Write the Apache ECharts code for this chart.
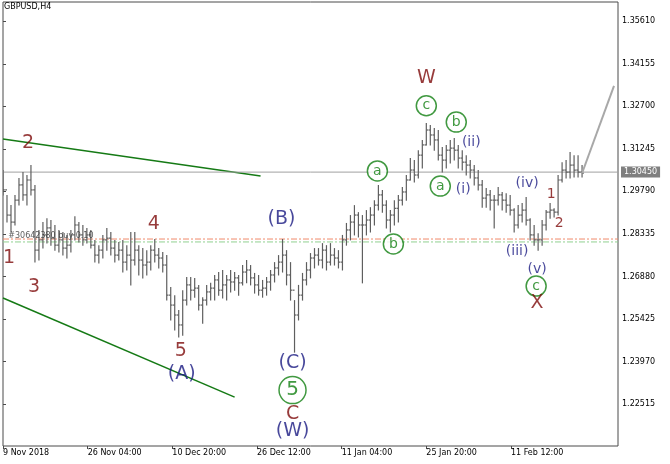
<!DOCTYPE html>
<html><head><meta charset="utf-8">
<script src="https://cdn.jsdelivr.net/npm/echarts@6/dist/echarts.min.js"></script>
<style>html,body{margin:0;padding:0;background:#fff}#c{width:670px;height:464px}</style>
</head><body><div id="c"></div>
<script>
const title = 'GBPUSD,H4';
const tickLabels = ['9 Nov 2018','26 Nov 04:00','10 Dec 20:00','26 Dec 12:00','11 Jan 04:00','25 Jan 20:00','11 Feb 12:00'];
const tickBars = [0, 21.2, 42.4, 63.6, 84.8, 106, 127.2];
const priceTicks = [1.22515,1.23970,1.25425,1.26880,1.28335,1.29790,1.31245,1.32700,1.34155,1.35610];
const lastPrice = 1.30450;
const orderLevels = [1.2816, 1.2806];

const highs = [1.3052,1.2967,1.2932,1.2967,1.3025,1.3045,1.3035,1.3069,1.3001,1.2847,
1.2874,1.2887,1.2881,1.2864,1.2847,1.2840,1.2830,1.2847,1.2894,1.2874,
1.2864,1.2854,1.2847,1.2813,1.2795,1.2830,1.2854,1.2840,1.2813,1.2806,
1.2813,1.2795,1.2840,1.2840,1.2795,1.2785,1.2778,1.2795,1.2816,1.2785,
1.2772,1.2761,1.2652,1.2624,1.2573,1.2641,1.2686,1.2686,1.2683,1.2659,
1.2617,1.2659,1.2666,1.2693,1.2703,1.2710,1.2693,1.2710,1.2703,1.2693,
1.2727,1.2744,1.2727,1.2700,1.2693,1.2676,1.2686,1.2710,1.2737,1.2761,
1.2816,1.2778,1.2737,1.2607,1.2659,1.2700,1.2737,1.2768,1.2785,1.2785,
1.2802,1.2795,1.2802,1.2785,1.2778,1.2830,1.2871,1.2898,1.2932,1.2908,
1.2898,1.2915,1.2925,1.2949,1.3001,1.2984,1.2949,1.2915,1.2949,1.2967,
1.2994,1.3035,1.3093,1.3086,1.3120,1.3155,1.3213,1.3206,1.3196,1.3189,
1.3131,1.3138,1.3155,1.3162,1.3138,1.3120,1.3103,1.3086,1.3069,1.3052,
1.3018,1.2991,1.2984,1.2967,1.2994,1.2977,1.2973,1.2967,1.2921,1.2932,
1.2939,1.2960,1.2887,1.2864,1.2836,1.2881,1.2915,1.2939,1.2921,1.3035,
1.3079,1.3086,1.3114,1.3103,1.3103,1.3069];
const lows = [1.2967,1.2874,1.2840,1.2864,1.2932,1.2949,1.2932,1.2967,1.2737,1.2744,
1.2785,1.2802,1.2795,1.2778,1.2772,1.2761,1.2751,1.2772,1.2813,1.2806,
1.2795,1.2802,1.2785,1.2737,1.2734,1.2751,1.2778,1.2761,1.2737,1.2744,
1.2703,1.2710,1.2659,1.2727,1.2693,1.2683,1.2693,1.2710,1.2737,1.2717,
1.2703,1.2607,1.2539,1.2505,1.2481,1.2487,1.2590,1.2607,1.2617,1.2573,
1.2528,1.2590,1.2607,1.2607,1.2624,1.2614,1.2607,1.2635,1.2641,1.2624,
1.2659,1.2666,1.2659,1.2631,1.2624,1.2617,1.2624,1.2641,1.2669,1.2693,
1.2703,1.2659,1.2607,1.2429,1.2539,1.2607,1.2659,1.2683,1.2717,1.2727,
1.2717,1.2710,1.2727,1.2727,1.2717,1.2710,1.2795,1.2813,1.2830,1.2823,
1.2666,1.2830,1.2840,1.2864,1.2915,1.2908,1.2854,1.2840,1.2864,1.2874,
1.2932,1.2949,1.3018,1.3011,1.3025,1.3059,1.3138,1.3138,1.3120,1.3086,
1.3045,1.3059,1.3076,1.3086,1.3059,1.3052,1.3035,1.3025,1.3001,1.2984,
1.2925,1.2925,1.2915,1.2854,1.2932,1.2915,1.2908,1.2898,1.2840,1.2854,
1.2874,1.2864,1.2813,1.2795,1.2778,1.2795,1.2847,1.2887,1.2891,1.2898,
1.3011,1.3025,1.3025,1.3028,1.3028,1.3028];
const closes = [1.2984,1.2898,1.2874,1.2949,1.3001,1.2967,1.3018,1.2984,1.2778,1.2813,
1.2830,1.2854,1.2819,1.2795,1.2813,1.2785,1.2795,1.2830,1.2864,1.2830,
1.2813,1.2830,1.2795,1.2761,1.2778,1.2813,1.2819,1.2785,1.2761,1.2778,
1.2737,1.2761,1.2744,1.2778,1.2744,1.2727,1.2737,1.2778,1.2761,1.2751,
1.2727,1.2624,1.2590,1.2556,1.2522,1.2607,1.2659,1.2641,1.2648,1.2590,
1.2607,1.2635,1.2648,1.2676,1.2641,1.2659,1.2676,1.2669,1.2683,1.2666,
1.2703,1.2710,1.2683,1.2659,1.2641,1.2648,1.2669,1.2693,1.2717,1.2737,
1.2761,1.2693,1.2641,1.2556,1.2624,1.2676,1.2710,1.2751,1.2761,1.2744,
1.2778,1.2737,1.2761,1.2751,1.2737,1.2813,1.2847,1.2874,1.2898,1.2864,
1.2864,1.2881,1.2898,1.2932,1.2967,1.2932,1.2881,1.2898,1.2921,1.2949,
1.2977,1.3018,1.3052,1.3035,1.3103,1.3138,1.3189,1.3172,1.3155,1.3103,
1.3086,1.3120,1.3127,1.3120,1.3093,1.3079,1.3069,1.3052,1.3025,1.3001,
1.2956,1.2967,1.2949,1.2949,1.2967,1.2949,1.2932,1.2915,1.2864,1.2898,
1.2915,1.2881,1.2830,1.2813,1.2813,1.2864,1.2908,1.2915,1.2908,1.3018,
1.3052,1.3045,1.3069,1.3052,1.3045,1.3041];

// trend / projection lines: [barIndex, price]
const upperChannel = [[0, 1.3158], [64.5, 1.3032]];
const lowerChannel = [[0, 1.2614], [58, 1.2275]];
const projection = [[145, 1.3041], [153, 1.3340]];
const chartSpan = [0, 154];

// wave labels: [barIndex, price, text]
const redLabels = [[1.5,1.2751,'1'],[6.25,1.3144,'2'],[7.75,1.2652,'3'],[37.75,1.2867,'4'],[44.5,1.2433,'5'],
  [106,1.3367,'W'],[72.5,1.2217,'C'],[133.75,1.2597,'X']];
const redSmall = [[137.25,1.2970,'1'],[139.25,1.2871,'2']];
const navyBig = [[44.75,1.2354,'(A)'],[69.75,1.2884,'(B)'],[72.5,1.2392,'(C)'],[72.5,1.2159,'(W)']];
const navySmall = [[115.25,1.2987,'(i)'],[117.25,1.3148,'(ii)'],[128.75,1.2775,'(iii)'],[131.25,1.3008,'(iv)'],[133.75,1.2713,'(v)']];
const circleLabels = [[93.75,1.3049,'a'],[97.75,1.2799,'b'],[106,1.3272,'c'],[113.5,1.3216,'b'],[109.5,1.2997,'a'],[133.5,1.2655,'c']];
const bigCircle = [[72.5,1.2299,'5']];
const orderTag = [[1.2,1.2826,'#30642380 buy 0.10']];

const FONT = 'DejaVu Sans';
const RED = '#7d0a0a', NAVY = '#1a1a82', GREEN = '#118011';
const bars = closes.map((c, i) => [i, highs[i], lows[i], c, i > 0 ? closes[i-1] : c]);

function textSeries(data, color, size) {
  return {
    type: 'scatter', symbolSize: 1, itemStyle: {color: 'rgba(0,0,0,0)'}, silent: true, z: 5,
    data: data.map(d => ({value: [d[0], d[1]], name: d[2]})),
    label: {show: true, position: 'inside', formatter: p => p.name, color: color, fontSize: size, fontFamily: FONT}
  };
}
function circleSeries(data, size, font) {
  return {
    type: 'scatter', symbol: 'circle', symbolSize: size, silent: true, z: 5,
    itemStyle: {color: '#fff', borderColor: GREEN, borderWidth: 1.5},
    data: data.map(d => ({value: [d[0], d[1]], name: d[2]})),
    label: {show: true, position: 'inside', formatter: p => p.name, color: GREEN, fontSize: font, fontFamily: FONT}
  };
}
function hLine(price, color, type, extra) {
  return Object.assign({
    type: 'line', symbol: 'none', silent: true, z: 2,
    data: chartSpan.map(x => [x, price]),
    lineStyle: {color: color, width: 1, type: type}
  }, extra || {});
}

const chart = echarts.init(document.getElementById('c'), null, {renderer: 'canvas'});
chart.setOption({
  animation: false,
  backgroundColor: '#fff',
  graphic: [{type: 'text', left: 4, top: 3, style: {text: title, fontSize: 8, fontFamily: FONT, fill: '#000'}}],
  grid: {left: 2, right: 52, top: 2, bottom: 18, show: true, borderColor: '#4a4a4a', borderWidth: 1, containLabel: false},
  xAxis: {
    type: 'value', min: 0, max: 154,
    axisLine: {show: false}, splitLine: {show: false},
    axisTick: {show: true, customValues: tickBars, length: 3, lineStyle: {color: '#4a4a4a'}},
    axisLabel: {customValues: tickBars, align: 'left', margin: 3, fontSize: 8, fontFamily: FONT, color: '#000',
      formatter: v => { const k = tickBars.findIndex(t => Math.abs(t - v) < 0.01); return k >= 0 ? tickLabels[k] : ''; }}
  },
  yAxis: {
    type: 'value', position: 'right', min: 1.21078, max: 1.36270,
    axisLine: {show: false}, splitLine: {show: false},
    axisTick: {show: true, customValues: priceTicks, length: 3, lineStyle: {color: '#4a4a4a'}},
    axisLabel: {customValues: priceTicks, margin: 4, fontSize: 8, fontFamily: FONT, color: '#000', formatter: v => v.toFixed(5)}
  },
  series: [
    {type: 'line', data: upperChannel, symbol: 'none', silent: true, lineStyle: {color: '#157a15', width: 1.5}, z: 2},
    {type: 'line', data: lowerChannel, symbol: 'none', silent: true, lineStyle: {color: '#157a15', width: 1.5}, z: 2},
    hLine(orderLevels[0], '#f08a6a', [6, 2, 2, 2]),
    hLine(orderLevels[1], '#90d090', [6, 2, 2, 2]),
    hLine(lastPrice, '#a0a0a0', 'solid', {
      endLabel: {show: true, distance: 3, formatter: () => lastPrice.toFixed(5), color: '#fff', backgroundColor: '#7f7f7f',
        padding: [2, 3, 1, 3], fontSize: 8, fontFamily: FONT}
    }),
    {
      type: 'custom', data: bars, z: 3, silent: true, clip: true,
      encode: {x: 0, y: [1, 2, 3, 4]},
      renderItem: (params, api) => {
        const x = api.value(0);
        const ph = api.coord([x, api.value(1)]), pl = api.coord([x, api.value(2)]);
        const pc = api.coord([x, api.value(3)]), po = api.coord([x, api.value(4)]);
        const st = {stroke: '#5f5f5f', lineWidth: 1.2};
        const left = params.coordSys.x;
        return {type: 'group', children: [
          {type: 'line', shape: {x1: ph[0], y1: ph[1], x2: pl[0], y2: pl[1] + 0.5}, style: st},
          {type: 'line', shape: {x1: Math.max(left + 1, po[0] - 1.8), y1: po[1], x2: po[0], y2: po[1]}, style: st},
          {type: 'line', shape: {x1: pc[0], y1: pc[1], x2: pc[0] + 1.8, y2: pc[1]}, style: st}
        ]};
      }
    },
    {type: 'line', data: projection, symbol: 'none', silent: true, lineStyle: {color: '#a8a8a8', width: 2}, z: 3},
    {
      type: 'scatter', symbolSize: 1, itemStyle: {color: 'rgba(0,0,0,0)'}, silent: true, z: 4,
      data: orderTag.map(d => ({value: [d[0], d[1]], name: d[2]})),
      label: {show: true, position: 'right', distance: 0, formatter: p => p.name, color: '#333', fontSize: 8, fontFamily: FONT}
    },
    textSeries(redLabels, RED, 19),
    textSeries(redSmall, RED, 14),
    textSeries(navyBig, NAVY, 19),
    textSeries(navySmall, NAVY, 14),
    circleSeries(circleLabels, 20, 14),
    circleSeries(bigCircle, 27, 20)
  ]
});
</script>
</body></html>
